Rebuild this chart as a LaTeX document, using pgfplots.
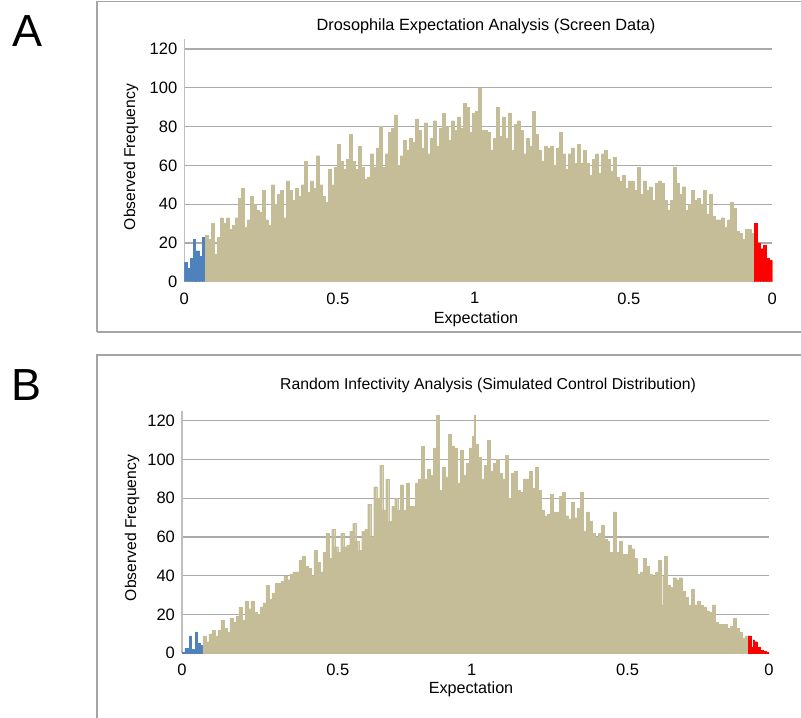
\documentclass[border=0pt]{standalone}
\usepackage{fontspec}
\setmainfont{Liberation Sans}
\usepackage{pgfplots}
\pgfplotsset{compat=1.18}

\definecolor{tanbar}{RGB}{196,189,151}
\definecolor{bluebar}{RGB}{79,129,189}
\definecolor{redbar}{RGB}{255,0,0}
\definecolor{gridgray}{RGB}{170,170,170}
\definecolor{framegray}{RGB}{165,165,165}

% one pixel of the reference = 0.02cm
\pgfplotsset{
  histo/.style={
    scale only axis,
    anchor=south west,
    xmin=0, xmax=196, ymin=0, ymax=125,
    axis x line*=bottom, axis y line*=left,
    axis line style={-, draw=gray!50, line width=0.6pt},
    ytick={0,20,...,120},
    ymajorgrids, grid style={gridgray, line width=0.7pt},
    major tick length=0pt,
    tick label style={font=\fontsize{9.4}{11}\selectfont},
    /pgf/number format/assume math mode=true,
    xticklabels={0,0.5,1,0.5,0},
    xticklabel style={yshift=-2.6pt},
    yticklabel style={xshift=-0.5pt},
  },
  bars/.style={ybar interval, fill=#1, draw=#1, line width=0.15pt},
}

\begin{document}
\begin{tikzpicture}
\useasboundingbox (0,0) rectangle (16.02,14.34);

% panel frames
\draw[framegray, line width=0.6pt] (1.94,7.70) -- (1.94,14.31) -- (16.3,14.31);
\draw[framegray, line width=0.6pt] (1.94,7.70) -- (16.3,7.70);
\draw[framegray, line width=0.6pt] (1.94,-0.3) -- (1.94,7.24) -- (16.3,7.24);

% panel letters
\node[font=\fontsize{25.6}{28}\selectfont] at (0.56,13.72) {A};
\node[font=\fontsize{25.6}{28}\selectfont] at (0.54,6.64) {B};

% ---------------- panel A ----------------
\begin{axis}[histo, at={(3.686cm,8.706cm)}, width=11.76cm, height=4.848cm,
  xtick={0,51.2,96.8,148.2,196}]
\addplot[bars=bluebar] coordinates {(0,10)(1,7)(2,12)(3,22)(3.5,11)(4,16)(5,13)(6,23)(7,0)};
\addplot[bars=tanbar] coordinates {
(7,24)(8,22)(9,30)(10,14)(11,23)(12,33)(13,30)(14,33)(15,27)(16,29)(17,33)(18,43)(19,48)(20,28)
(21,32)(22,44)(23,40)(24,37)(25,36)(26,47)(27,32)(28,29)(29,50)(30,40)(31,45)(32,47)(33,33)(34,52)
(35,47)(36,42)(37,48)(38,44)(39,50)(40,62)(41,46)(42,52)(43,48)(44,65)(45,50)(46,44)(47,41)(48,58)
(49,50)(50,59)(51,71)(52,62)(53,58)(54,63)(55,76)(56,62)(57,58)(58,70)(59,59)(60,53)(61,54)(62,66)
(63,59)(64,69)(65,80)(66,59)(67,66)(68,77)(69,79)(70,86)(71,60)(72,65)(73,73)(74,68)(75,74)(76,72)
(77,84)(78,78)(79,69)(80,82)(81,66)(82,74)(83,83)(84,70)(85,79)(86,87)(87,80)(88,73)(89,83)(90,78)
(91,85)(92,79)(93,92)(94,90)(95,77)(96,87)(97,88)(98,100)(98.33,36)(98.67,100)(99,78)(100,78)
(101,77)(102,68)(103,74)(104,90)(105,75)(106,85)(107,74)(108,87)(109,68)(110,81)(111,83)(112,78)
(113,66)(114,74)(115,70)(116,88)(117,76)(118,68)(119,62)(120,70)(121,69)(122,70)(123,60)(124,69)
(125,77)(126,66)(127,58)(128,66)(129,69)(130,61)(131,71)(132,61)(133,68)(134,61)(135,55)(136,63)
(137,66)(138,56)(139,66)(140,68)(141,63)(142,57)(143,64)(144,54)(145,52)(146,55)(147,48)(148,52)
(149,52)(150,47)(151,59)(152,45)(153,52)(154,47)(155,49)(156,42)(157,51)(158,52)(159,51)(160,42)
(161,37)(162,42)(163,59)(164,51)(165,45)(166,49)(167,37)(168,40)(169,47)(170,42)(171,43)(172,40)
(173,47)(174,35)(175,45)(176,34)(177,32)(178,32)(179,33)(180,28)(181,32)(182,41)(183,38)(184,26)
(185,25)(186,22)(187,27)(188,27)(189,25)(190,0)};
\addplot[bars=redbar] coordinates {(190,30)(191,20)(192,17)(193,19)(194,12)(195,11)(196,0)};
\end{axis}

\node[font=\fontsize{9.27}{11}\selectfont] at (9.72,13.82) {Drosophila Expectation Analysis (Screen Data)};
\node[font=\fontsize{8.9}{11}\selectfont, rotate=90] at (2.62,11.20) {Observed Frequency};
\node[font=\fontsize{9.2}{11}\selectfont] at (9.52,7.96) {Expectation};

% ---------------- panel B ----------------
\begin{axis}[histo, at={(3.64cm,1.274cm)}, width=11.74cm, height=4.845cm,
  xtick={0,52,96.7,148.8,196}]
\addplot[bars=bluebar] coordinates {(0,0.5)(1,2.5)(2,1.5)(2.5,9)(3,2)(4,2)(4.5,11)(5,5)(6,4)(7,0)};
\addplot[bars=tanbar] coordinates {
(7,9)(8,6)(9,10)(10,12)(11,9)(12,12)(13,17)(14,13)(15,11)(16,18)(17,16)(18,19)(19,24)(20,17)
(21,27)(22,23)(23,27)(24,21)(25,20)(26,24)(27,26)(28,35)(29,28)(30,31)(31,36)(32,36)(33,37)(34,40)
(35,38)(36,41)(37,42)(38,42)(39,48)(40,50)(41,45)(42,44)(43,40)(44,53)(45,47)(46,42)(47,52)(48,62)
(49,49)(50,64)(51,55)(52,52)(53,62)(54,55)(55,56)(56,63)(57,67)(58,58)(59,53)(60,63)(61,64)(62,77)
(63,60)(64,86)(65,80)(66,97)(67,74)(68,90)(69,68)(70,76)(71,80)(72,74)(73,87)(74,74)(75,88)(76,76)
(77,76)(78,88)(79,90)(80,107)(81,90)(82,95)(83,92)(84,106)(85,123)(86,84)(87,96)(88,91)(89,113)
(90,107)(91,106)(92,88)(93,105)(94,92)(95,98)(96,106)(97,112)(97.5,123)(98,59)(98.33,108)(99,101)
(100,90)(101,97)(102,110)(103,94)(104,98)(105,100)(106,93)(107,90)(108,102)(109,80)(110,93)(111,94)
(112,84)(113,83)(114,90)(115,90)(116,94)(117,85)(118,96)(119,84)(120,74)(121,71)(122,72)(123,82)
(124,73)(125,73)(126,81)(126.67,50)(127,83)(128,71)(129,69)(130,78)(131,70)(132,75)(132.5,47)
(133,83)(134,63)(135,73)(136,68)(137,62)(138,60)(139,62)(140,66)(141,59)(142,58)(142.5,38)(143,52)
(144,73)(145,52)(146,58)(147,51)(148,51)(149,56)(150,54)(151,49)(152,41)(153,42)(154,49)(155,45)
(156,41)(157,40)(158,42)(159,48)(160,25)(160.5,40)(161,50)(162,35)(163,34)(164,39)(165,38)(166,39)
(167,32)(168,29)(169,25)(170,33)(171,25)(172,27)(173,25)(174,24)(175,22)(176,21)(177,25)(178,16)
(179,15)(180,15)(181,15)(182,13)(183,14)(184,18)(185,13)(186,11)(187,8)(188,9)(189,0)};
\addplot[bars=redbar] coordinates {(189,9)(190,3)(190.67,7)(191,6)(192,3)(193,1.5)(194,1)(195,0.5)(196,0)};
\end{axis}

\node[font=\fontsize{8.96}{11}\selectfont] at (9.76,6.626) {Random Infectivity Analysis (Simulated Control Distribution)};
\node[font=\fontsize{8.9}{11}\selectfont, rotate=90] at (2.64,3.78) {Observed Frequency};
\node[font=\fontsize{9.2}{11}\selectfont] at (9.42,0.56) {Expectation};
\end{tikzpicture}
\end{document}
